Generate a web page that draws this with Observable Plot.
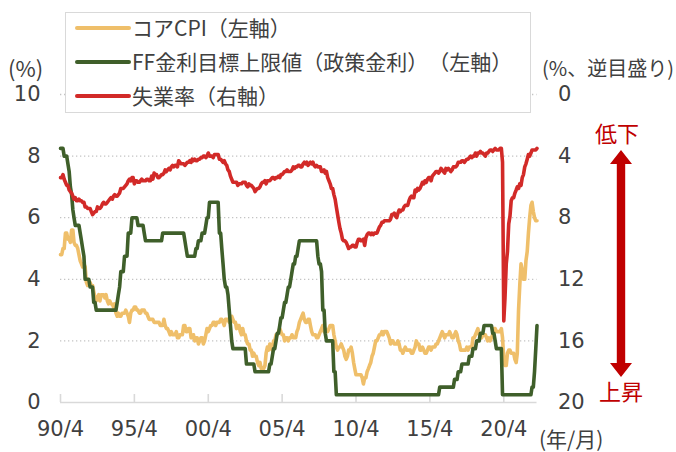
<!DOCTYPE html>
<html><head><meta charset="utf-8">
<script src="https://cdn.jsdelivr.net/npm/d3@7"></script>
<script src="https://cdn.jsdelivr.net/npm/@observablehq/plot@0.6"></script>
<style>
body{margin:0;background:#fff;}
#chart{width:676px;height:452px;}
#chart text{text-spacing-trim: space-all;}
</style>
</head><body><div id="chart"></div>
<script>
// monthly data, 1990/4 .. 2022/7
const startYear = 1990, startMonth = 4;
const coreCPI = [
4.8,4.8,5.0,5.0,5.5,5.5,5.3,5.3,5.2,
5.6,5.6,5.2,5.1,5.1,5.0,4.8,4.6,4.5,4.4,4.5,4.4,
3.9,3.8,3.9,3.9,3.8,3.8,3.6,3.4,3.3,3.4,3.5,3.3,
3.5,3.5,3.5,3.4,3.5,3.3,3.2,3.3,3.2,3.2,3.1,3.2,
2.9,2.8,2.9,2.8,2.8,2.9,2.9,2.9,3.0,2.9,2.8,2.6,
2.9,3.0,3.0,3.1,3.1,3.0,3.0,2.9,2.9,3.0,3.0,3.0,
2.9,2.9,2.8,2.7,2.7,2.7,2.7,2.6,2.6,2.6,2.6,2.6,
2.5,2.5,2.5,2.7,2.5,2.4,2.4,2.3,2.2,2.3,2.2,2.2,
2.2,2.3,2.1,2.1,2.2,2.2,2.2,2.5,2.5,2.3,2.3,2.4,
2.4,2.1,2.1,2.2,2.0,2.1,2.1,1.9,2.0,2.1,2.1,1.9,
2.0,2.2,2.4,2.3,2.4,2.5,2.5,2.6,2.6,2.5,2.6,2.6,
2.6,2.7,2.7,2.6,2.5,2.7,2.7,2.7,2.6,2.6,2.8,2.7,
2.6,2.6,2.4,2.5,2.5,2.3,2.2,2.4,2.2,2.2,2.0,1.9,
1.9,1.7,1.7,1.5,1.6,1.5,1.5,1.3,1.2,1.3,1.1,1.1,
1.1,1.2,1.6,1.8,1.7,1.9,1.8,1.7,2.0,2.0,2.2,2.2,
2.3,2.4,2.3,2.2,2.2,2.0,2.1,2.1,2.0,2.1,2.1,2.2,
2.1,2.1,2.1,2.3,2.4,2.6,2.7,2.8,2.9,2.7,2.6,2.6,
2.7,2.7,2.5,2.3,2.2,2.2,2.2,2.1,2.1,2.2,2.3,2.4,
2.5,2.3,2.4,2.3,2.3,2.4,2.5,2.5,2.5,2.2,2.0,1.8,
1.7,1.8,1.8,1.9,1.8,1.7,1.5,1.4,1.5,1.7,1.7,1.8,
1.6,1.3,1.1,0.9,0.9,0.9,0.9,0.9,0.8,0.6,0.8,0.8,
1.0,1.1,1.2,1.3,1.5,1.6,1.8,2.0,2.0,2.1,2.2,2.2,
2.3,2.2,2.3,2.3,2.3,2.2,2.1,1.9,2.0,2.0,1.9,1.9,
1.9,2.0,1.9,1.7,1.7,1.6,1.7,1.8,1.7,1.7,1.7,1.7,
1.6,1.6,1.7,1.8,2.0,1.9,1.9,1.7,1.7,1.8,1.7,1.6,
1.6,1.7,1.8,1.8,1.7,1.8,1.8,1.8,1.9,1.9,2.0,2.1,
2.2,2.3,2.2,2.1,2.2,2.2,2.2,2.3,2.2,2.1,2.1,2.2,
2.3,2.2,2.0,1.9,1.7,1.7,1.7,1.7,1.7,1.8,1.7,1.8,
1.8,1.8,2.1,2.1,2.2,2.3,2.4,2.2,2.2,2.1,2.2,2.2,
2.2,2.1,2.0,2.1,2.0,2.1,2.2,2.4,2.4,2.3,2.3,2.3,
2.3,2.4,2.1,1.4,1.2,1.2,1.6,1.7,1.7,1.6,1.6,1.6,
1.4,1.3,1.6,3.0,3.8,4.5,4.3,4.0,4.0,4.6,4.9,5.5,
6.0,6.4,6.5,6.2,6.0,5.9,5.9
];
const ffRate = [
8.25,8.25,8.25,8.0,8.0,8.0,7.75,7.5,7.0,
6.75,6.25,6.0,5.75,5.75,5.75,5.75,5.5,5.25,5.0,4.75,4.0,
4.0,4.0,4.0,3.75,3.75,3.75,3.25,3.25,3.0,3.0,3.0,3.0,
3.0,3.0,3.0,3.0,3.0,3.0,3.0,3.0,3.0,3.0,3.0,3.0,
3.0,3.25,3.5,3.75,4.25,4.25,4.25,4.75,4.75,4.75,5.5,5.5,
5.5,6.0,6.0,6.0,6.0,6.0,5.75,5.75,5.75,5.75,5.75,5.5,
5.25,5.25,5.25,5.25,5.25,5.25,5.25,5.25,5.25,5.25,5.25,5.25,
5.25,5.25,5.5,5.5,5.5,5.5,5.5,5.5,5.5,5.5,5.5,5.5,
5.5,5.5,5.5,5.5,5.5,5.5,5.5,5.5,5.25,5.0,4.75,4.75,
4.75,4.75,4.75,4.75,4.75,5.0,5.0,5.25,5.25,5.25,5.5,5.5,
5.5,5.75,6.0,6.0,6.5,6.5,6.5,6.5,6.5,6.5,6.5,6.5,
5.5,5.5,5.0,4.5,4.0,3.75,3.75,3.5,3.0,2.5,2.0,1.75,
1.75,1.75,1.75,1.75,1.75,1.75,1.75,1.75,1.75,1.75,1.25,1.25,
1.25,1.25,1.25,1.25,1.25,1.0,1.0,1.0,1.0,1.0,1.0,1.0,
1.0,1.0,1.0,1.0,1.0,1.25,1.25,1.5,1.75,1.75,2.0,2.25,
2.25,2.5,2.75,2.75,3.0,3.25,3.25,3.5,3.75,3.75,4.0,4.25,
4.5,4.5,4.75,4.75,5.0,5.25,5.25,5.25,5.25,5.25,5.25,5.25,
5.25,5.25,5.25,5.25,5.25,5.25,5.25,5.25,4.75,4.5,4.5,4.25,
3.0,3.0,2.25,2.0,2.0,2.0,2.0,2.0,2.0,1.0,1.0,0.25,
0.25,0.25,0.25,0.25,0.25,0.25,0.25,0.25,0.25,0.25,0.25,0.25,
0.25,0.25,0.25,0.25,0.25,0.25,0.25,0.25,0.25,0.25,0.25,0.25,
0.25,0.25,0.25,0.25,0.25,0.25,0.25,0.25,0.25,0.25,0.25,0.25,
0.25,0.25,0.25,0.25,0.25,0.25,0.25,0.25,0.25,0.25,0.25,0.25,
0.25,0.25,0.25,0.25,0.25,0.25,0.25,0.25,0.25,0.25,0.25,0.25,
0.25,0.25,0.25,0.25,0.25,0.25,0.25,0.25,0.25,0.25,0.25,0.25,
0.25,0.25,0.25,0.25,0.25,0.25,0.25,0.25,0.25,0.25,0.25,0.5,
0.5,0.5,0.5,0.5,0.5,0.5,0.5,0.5,0.5,0.5,0.5,0.75,
0.75,0.75,1.0,1.0,1.0,1.25,1.25,1.25,1.25,1.25,1.25,1.5,
1.5,1.5,1.75,1.75,1.75,2.0,2.0,2.0,2.25,2.25,2.25,2.5,
2.5,2.5,2.5,2.5,2.5,2.5,2.25,2.25,2.0,1.75,1.75,1.75,
1.75,1.75,0.25,0.25,0.25,0.25,0.25,0.25,0.25,0.25,0.25,0.25,
0.25,0.25,0.25,0.25,0.25,0.25,0.25,0.25,0.25,0.25,0.25,0.25,
0.25,0.25,0.5,0.5,1.0,1.75,2.5
];
const unemployment = [
5.4,5.4,5.2,5.5,5.7,5.9,5.9,6.2,6.3,
6.4,6.6,6.8,6.7,6.9,6.9,6.8,6.9,6.9,7.0,7.0,7.3,
7.3,7.4,7.4,7.4,7.6,7.8,7.7,7.6,7.6,7.3,7.4,7.4,
7.3,7.1,7.0,7.1,7.1,7.0,6.9,6.8,6.7,6.8,6.6,6.5,
6.6,6.6,6.5,6.4,6.1,6.1,6.1,6.0,5.9,5.8,5.6,5.5,
5.6,5.4,5.4,5.8,5.6,5.6,5.7,5.7,5.6,5.5,5.6,5.6,
5.6,5.5,5.5,5.6,5.6,5.3,5.5,5.1,5.2,5.2,5.4,5.4,
5.3,5.2,5.2,5.1,4.9,5.0,4.9,4.8,4.9,4.7,4.6,4.7,
4.6,4.6,4.7,4.3,4.4,4.5,4.5,4.5,4.6,4.5,4.4,4.4,
4.3,4.4,4.2,4.3,4.2,4.3,4.3,4.2,4.2,4.1,4.1,4.0,
4.0,4.1,4.0,3.8,4.0,4.0,4.0,4.1,3.9,3.9,3.9,3.9,
4.2,4.2,4.3,4.4,4.3,4.5,4.6,4.9,5.0,5.3,5.5,5.7,
5.7,5.7,5.7,5.9,5.8,5.8,5.8,5.7,5.7,5.7,5.9,6.0,
5.8,5.9,5.9,6.0,6.1,6.3,6.2,6.1,6.1,6.0,5.8,5.7,
5.7,5.6,5.8,5.6,5.6,5.6,5.5,5.4,5.4,5.5,5.4,5.4,
5.3,5.4,5.2,5.2,5.1,5.0,5.0,4.9,5.0,5.0,5.0,4.9,
4.7,4.8,4.7,4.7,4.6,4.6,4.7,4.7,4.5,4.4,4.5,4.4,
4.6,4.5,4.4,4.5,4.4,4.6,4.7,4.6,4.7,4.7,4.7,5.0,
5.0,4.9,5.1,5.0,5.4,5.6,5.8,6.1,6.1,6.5,6.8,7.3,
7.8,8.3,8.7,9.0,9.4,9.5,9.5,9.6,9.8,10.0,9.9,9.9,
9.8,9.8,9.9,9.9,9.6,9.4,9.4,9.5,9.5,9.4,9.8,9.3,
9.1,9.0,9.0,9.1,9.0,9.1,9.0,9.0,9.0,8.8,8.6,8.5,
8.3,8.3,8.2,8.2,8.2,8.2,8.2,8.1,7.8,7.8,7.7,7.9,
8.0,7.7,7.5,7.6,7.5,7.5,7.3,7.2,7.2,7.2,6.9,6.7,
6.6,6.7,6.7,6.2,6.3,6.1,6.2,6.1,5.9,5.7,5.8,5.6,
5.7,5.5,5.4,5.4,5.6,5.3,5.2,5.1,5.0,5.0,5.1,5.0,
4.8,4.9,5.0,5.1,4.8,4.9,4.8,4.9,5.0,4.9,4.7,4.7,
4.7,4.6,4.4,4.4,4.4,4.3,4.3,4.4,4.3,4.2,4.2,4.1,
4.0,4.1,4.0,4.0,3.8,4.0,3.8,3.8,3.7,3.8,3.8,3.9,
4.0,3.8,3.8,3.7,3.6,3.6,3.7,3.6,3.5,3.6,3.6,3.6,
3.5,3.5,4.4,14.7,13.2,11.0,10.2,8.4,7.9,6.9,6.7,6.7,
6.4,6.2,6.0,6.1,5.8,5.9,5.4,5.2,4.7,4.5,4.2,3.9,
4.0,3.8,3.6,3.6,3.6,3.6,3.5
];
const tickYears = [1990,1995,2000,2005,2010,2015,2020];
const tickLabels = ["90/4","95/4","00/4","05/4","10/4","15/4","20/4"];
const leftTicks = [0,2,4,6,8,10];
const rightTickLabels = ["20","16","12","8","4","0"];
const seriesNames = ["コアCPI（左軸）","FF金利目標上限値（政策金利）（左軸）","失業率（右軸）"];
const seriesColors = ["#EFBF6A","#3F5F2A","#D22A28"];

if (coreCPI.length !== ffRate.length || ffRate.length !== unemployment.length)
  throw new Error(`length mismatch ${coreCPI.length} ${ffRate.length} ${unemployment.length}`);

const monthDate = i => new Date(Date.UTC(startYear, startMonth - 1 + i, 1));
const rows = coreCPI.map((v, i) => ({date: monthDate(i), cpi: v, ff: ffRate[i], ue: unemployment[i]}));
const tickDates = tickYears.map(y => new Date(Date.UTC(y, startMonth - 1, 1)));
const tickLabelOf = new Map(tickDates.map((d, i) => [+d, tickLabels[i]]));
const rightLabelOf = new Map(leftTicks.map((t, i) => [t, rightTickLabels[i]]));
const ueToLeft = u => 10 - u / 2;   // right axis is reversed: 0 at top, 20 at bottom

const W = 676, H = 452, mL = 60, mR = 139.5, mT = 94, mB = 50;
const txt = "#404040";
const numFont = "'DejaVu Sans', Verdana, sans-serif";
const jpFont = "'Noto Sans CJK JP', 'Noto Sans', sans-serif";

const chart = Plot.plot({
  width: W, height: H,
  marginLeft: mL, marginRight: mR, marginTop: mT, marginBottom: mB,
  style: {fontFamily: numFont, color: txt, background: "#fff", overflow: "visible"},
  x: {type: "utc", domain: [rows[0].date, rows[rows.length - 1].date]},
  y: {domain: [0, 10]},
  marks: [
    Plot.ruleY([2,4,6,8,10], {stroke: "#c4c4c4", strokeWidth: 1.3, strokeDasharray: "1.3,2.7"}),
    Plot.ruleY([0], {stroke: "#d9d9d9", strokeWidth: 1.6}),
    Plot.ruleX(tickDates, {y1: 0, y2: 0.26, stroke: "#d9d9d9", strokeWidth: 1.6}),
    Plot.line(rows, {x: "date", y: "cpi", stroke: seriesColors[0], strokeWidth: 3.6, strokeLinejoin: "round"}),
    Plot.line(rows, {x: "date", y: "ff", stroke: seriesColors[1], strokeWidth: 3.6, strokeLinejoin: "round"}),
    Plot.line(rows, {x: "date", y: d => ueToLeft(d.ue), stroke: seriesColors[2], strokeWidth: 3.6, strokeLinejoin: "round"}),
    Plot.axisX({ticks: tickDates, tickFormat: d => tickLabelOf.get(+d), tickSize: 0, tickPadding: 19, fontSize: 21, fill: txt, label: null}),
    Plot.axisY({ticks: leftTicks, tickSize: 0, tickPadding: 20, fontSize: 21, fill: txt, label: null}),
    Plot.axisY({anchor: "right", ticks: leftTicks, tickFormat: d => rightLabelOf.get(d), tickSize: 0, tickPadding: 21, fontSize: 21, fill: txt, label: null})
  ]
});
document.getElementById("chart").appendChild(chart);

// annotations: legend, unit labels, arrow
const svg = d3.select(chart);
const g = svg.append("g").attr("text-anchor", "start");
const lg = g.append("g");
lg.append("rect").attr("x", 65.5).attr("y", 12.5).attr("width", 465).attr("height", 100)
  .attr("fill", "#fff").attr("stroke", "#d9d9d9").attr("stroke-width", 1);
const rowY = [28, 62, 96];
seriesNames.forEach((name, i) => {
  lg.append("line").attr("x1", 77).attr("x2", 129).attr("y1", rowY[i]).attr("y2", rowY[i])
    .attr("stroke", seriesColors[i]).attr("stroke-width", 4).attr("stroke-linecap", "round");
  lg.append("text").attr("x", 132).attr("y", rowY[i]).attr("dy", "0.36em").attr("text-anchor", "start")
    .attr("font-family", jpFont).attr("font-size", 21).attr("fill", txt).text(name);
});
g.append("text").attr("x", 8).attr("y", 69).attr("dy", "0.36em").attr("text-anchor", "start")
  .attr("font-family", jpFont).attr("font-size", 22).attr("fill", txt).text("(%)");
g.append("text").attr("x", 542).attr("y", 69).attr("dy", "0.36em").attr("text-anchor", "start")
  .attr("font-family", jpFont).attr("font-size", 20).attr("fill", txt).text("(%、逆目盛り)");
g.append("text").attr("x", 539).attr("y", 439).attr("dy", "0.36em").attr("text-anchor", "start")
  .attr("font-family", jpFont).attr("font-size", 21).attr("fill", txt).text("(年/月)");

const red = "#C00000";
const arrowX = 621, arrowTop = 150, arrowBot = 377, headHalf = 11, shaftHalf = 4.2, headLen = 14;
g.append("path").attr("fill", red).attr("d",
  `M${arrowX},${arrowTop} L${arrowX+headHalf},${arrowTop+headLen} L${arrowX+shaftHalf},${arrowTop+headLen} L${arrowX+shaftHalf},${arrowBot-headLen} L${arrowX+headHalf},${arrowBot-headLen} L${arrowX},${arrowBot} L${arrowX-headHalf},${arrowBot-headLen} L${arrowX-shaftHalf},${arrowBot-headLen} L${arrowX-shaftHalf},${arrowTop+headLen} L${arrowX-headHalf},${arrowTop+headLen} Z`);
g.append("text").attr("x", 617).attr("y", 134).attr("dy", "0.36em").attr("text-anchor", "middle")
  .attr("font-family", jpFont).attr("font-size", 22).attr("fill", red).text("低下");
g.append("text").attr("x", 621).attr("y", 392).attr("dy", "0.36em").attr("text-anchor", "middle")
  .attr("font-family", jpFont).attr("font-size", 22).attr("fill", red).text("上昇");
</script>
</body></html>
